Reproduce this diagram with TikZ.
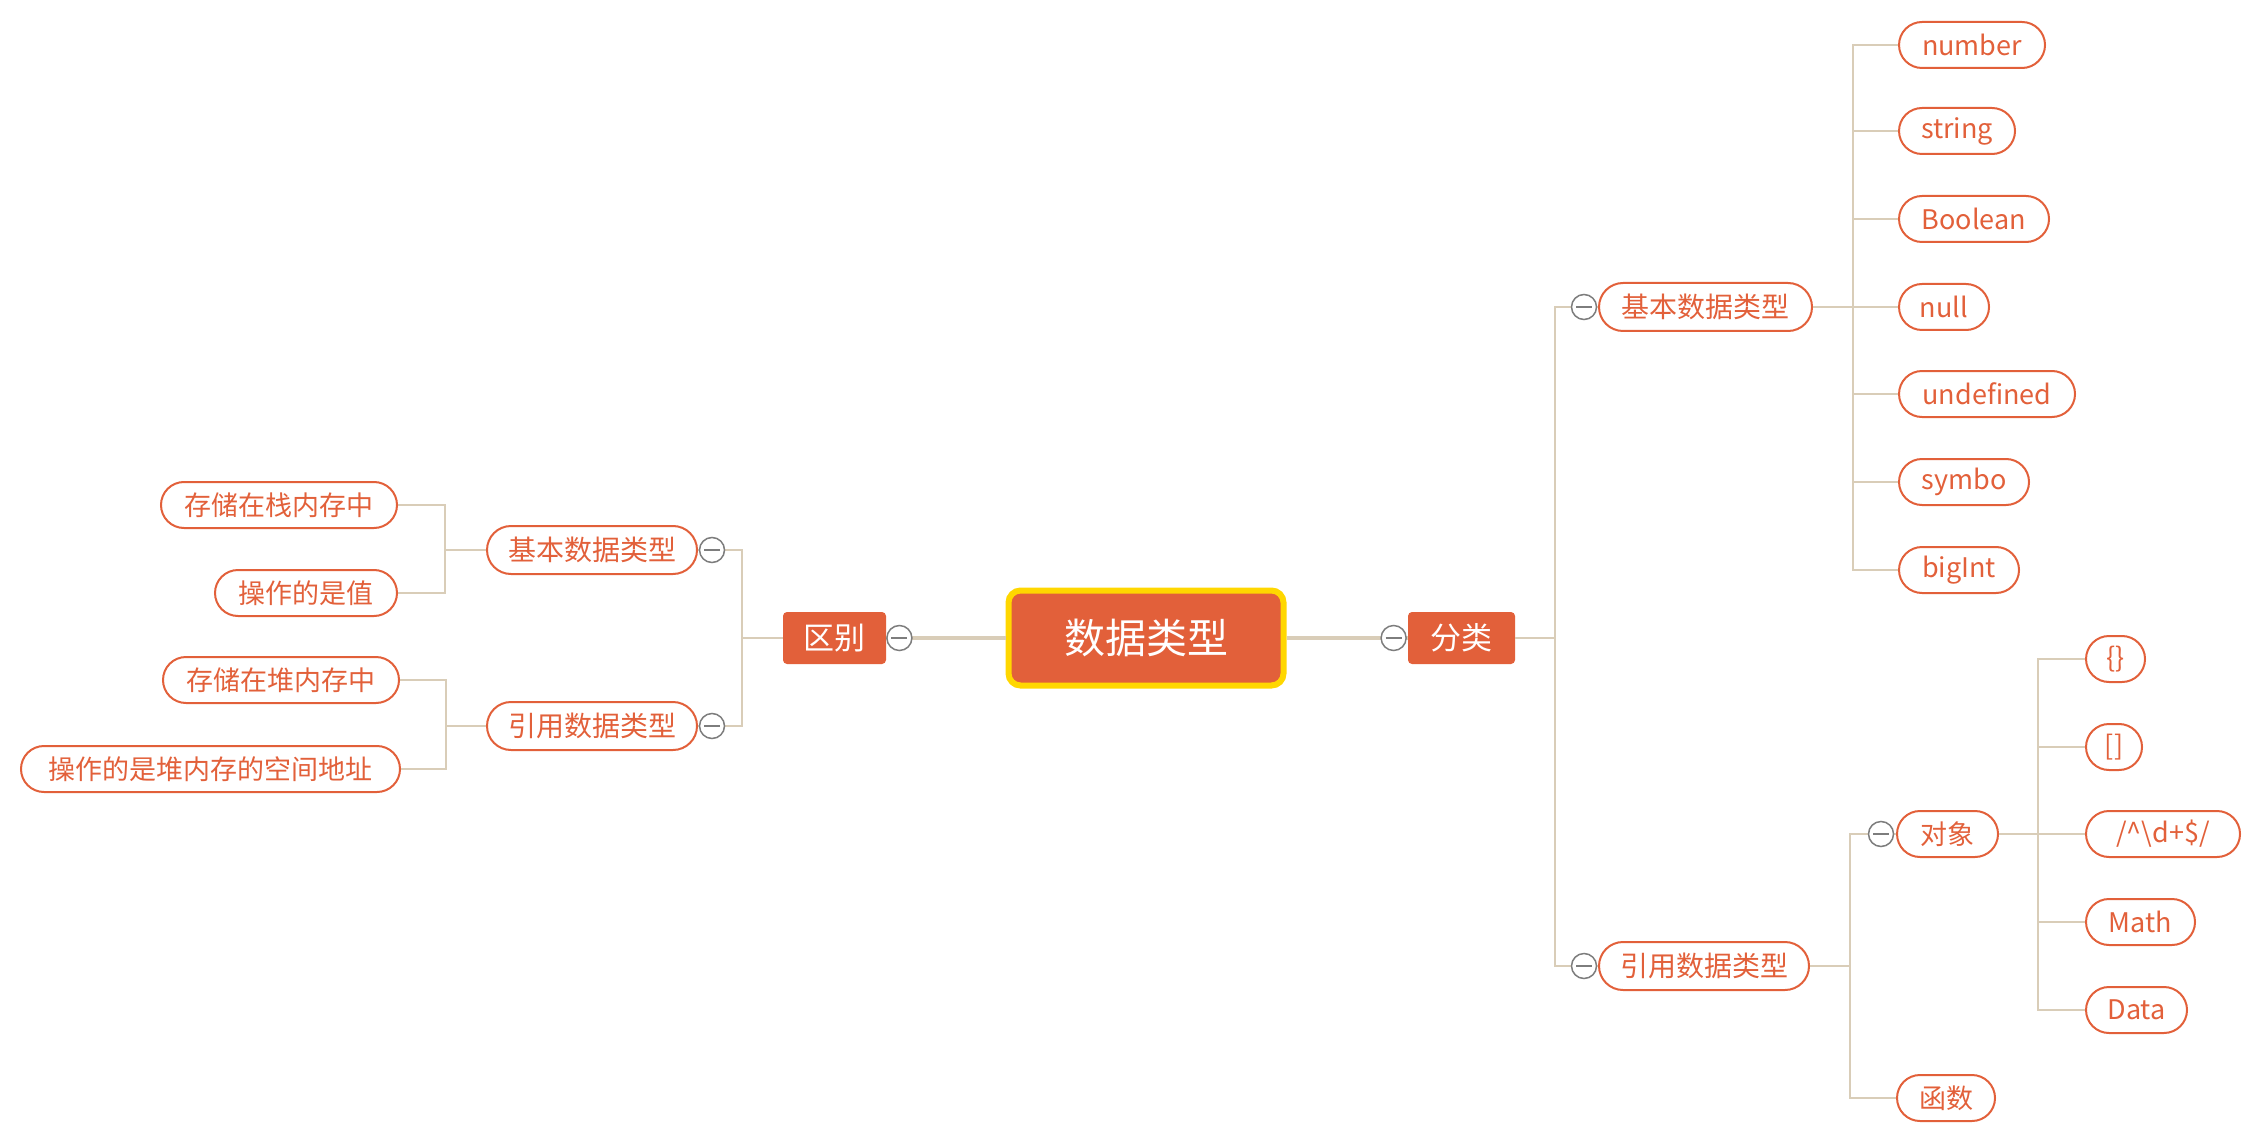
\documentclass[tikz,border=0pt]{standalone}
\usepackage{fontspec}
\setmainfont{Noto Sans CJK SC}
\definecolor{morange}{RGB}{226,96,58}
\definecolor{myellow}{RGB}{255,215,0}
\definecolor{mline}{RGB}{217,205,184}
\definecolor{mgray}{RGB}{125,125,125}
\begin{document}
\begin{tikzpicture}[x=0.5pt,y=-0.5pt,
  central/.style={fill=morange,draw=myellow,line width=3pt,rounded corners=6pt,
    minimum width=137.5pt,minimum height=47.5pt,text=white,font=\fontsize{20.5}{24}\selectfont},
  mainbr/.style={fill=morange,draw=none,rounded corners=2pt,minimum height=26pt,
    text=white,font=\fontsize{15.5}{18}\selectfont,inner sep=0pt},
  topic/.style={draw=morange,line width=1pt,rounded corners=12pt,minimum height=24pt,
    text=morange,font=\fontsize{14}{16}\selectfont,inner sep=0pt},
  leaf/.style={draw=morange,line width=1pt,rounded corners=11.5pt,minimum height=23pt,
    text=morange,font=\fontsize{13.5}{16}\selectfont,inner sep=0pt},
  conn/.style={draw=mline,line width=1pt},
  thickconn/.style={draw=mline,line width=2pt},
  collapse/.style={circle,draw=mgray,fill=white,minimum size=12.5pt,inner sep=0pt,line width=0.75pt,
    path picture={\draw[mgray,line width=0.9pt] ([xshift=-4pt]path picture bounding box.center) -- ([xshift=4pt]path picture bounding box.center);}}
]
\useasboundingbox (0,0) rectangle (2262,1144);

% central and main branches
\node[central] (c) at (1146,638) {数据类型};
\node[mainbr,minimum width=51.5pt] (qb) at (834.5,638) {区别};
\node[mainbr,minimum width=53.5pt] (fl) at (1461.5,638) {分类};

% right side level 2
\node[topic,minimum width=106.5pt,anchor=west] (rjb) at (1598,307) {基本数据类型};
\node[topic,minimum width=105pt,anchor=west] (ryy) at (1598,966) {引用数据类型};

% right leaves of basic types
\node[leaf,minimum width=73pt,anchor=west] (number) at (1898,45) {number};
\node[leaf,minimum width=58pt,anchor=west] (string) at (1898,131) {string};
\node[leaf,minimum width=75pt,anchor=west] (boolean) at (1898,219) {Boolean};
\node[leaf,minimum width=45pt,anchor=west] (null) at (1898,307) {null};
\node[leaf,minimum width=88pt,anchor=west] (undef) at (1898,394) {undefined};
\node[leaf,minimum width=65pt,anchor=west] (symbo) at (1898,482) {symbo};
\node[leaf,minimum width=60pt,anchor=west] (bigint) at (1898,570) {bigInt};

% reference types
\node[leaf,minimum width=50.5pt,anchor=west] (obj) at (1896,834) {对象};
\node[leaf,minimum width=49pt,anchor=west] (func) at (1896,1098) {函数};
\node[leaf,minimum width=29.5pt,anchor=west] (brace) at (2085,659) {\{\}};
\node[leaf,minimum width=28pt,anchor=west] (brack) at (2085,747) {[]};
\node[leaf,minimum width=77pt,anchor=west] (regex) at (2085,834) {/\textasciicircum\textbackslash d+\$/};
\node[leaf,minimum width=54.5pt,anchor=west] (math) at (2085,922) {Math};
\node[leaf,minimum width=50.5pt,anchor=west] (data) at (2085,1010) {Data};

% left side
\node[topic,minimum width=105pt,anchor=east] (ljb) at (698,550) {基本数据类型};
\node[topic,minimum width=105pt,anchor=east] (lyy) at (698,726) {引用数据类型};
\node[leaf,minimum width=118pt,anchor=east] (zhan) at (398,505) {存储在栈内存中};
\node[leaf,minimum width=91pt,anchor=east] (zhi) at (398,593) {操作的是值};
\node[leaf,minimum width=118pt,anchor=east] (dui) at (400,680) {存储在堆内存中};
\node[leaf,minimum width=189.5pt,anchor=east] (addr) at (401,769) {操作的是堆内存的空间地址};

% connectors
\draw[thickconn] (c.west) -- (qb.east);
\draw[thickconn] (c.east) -- (fl.west);

\draw[conn] (fl.east) -- ++(40,0) |- (rjb.west);
\draw[conn] (fl.east) -- ++(40,0) |- (ryy.west);

\foreach \n in {number,string,boolean,null,undef,symbo,bigint}
  \draw[conn] (rjb.east) -- ++(40,0) |- (\n.west);

\draw[conn] (ryy.east) -- ++(40,0) |- (obj.west);
\draw[conn] (ryy.east) -- ++(40,0) |- (func.west);

\foreach \n in {brace,brack,regex,math,data}
  \draw[conn] (obj.east) -- ++(39,0) |- (\n.west);

\draw[conn] (qb.west) -- ++(-41,0) |- (ljb.east);
\draw[conn] (qb.west) -- ++(-41,0) |- (lyy.east);
\draw[conn] (ljb.west) -- ++(-41,0) |- (zhan.east);
\draw[conn] (ljb.west) -- ++(-41,0) |- (zhi.east);
\draw[conn] (lyy.west) -- ++(-40,0) |- (dui.east);
\draw[conn] (lyy.west) -- ++(-40,0) |- (addr.east);

% collapse markers
\node[collapse] (cqb) at ([xshift=6.5pt]qb.east) {};
\node[collapse] (cfl) at ([xshift=-7pt]fl.west) {};
\node[collapse] (crjb) at ([xshift=-7pt]rjb.west) {};
\node[collapse] (cryy) at ([xshift=-7pt]ryy.west) {};
\node[collapse] (cobj) at ([xshift=-7.5pt]obj.west) {};
\node[collapse] (cljb) at ([xshift=7pt]ljb.east) {};
\node[collapse] (clyy) at ([xshift=7pt]lyy.east) {};
\end{tikzpicture}
\end{document}
